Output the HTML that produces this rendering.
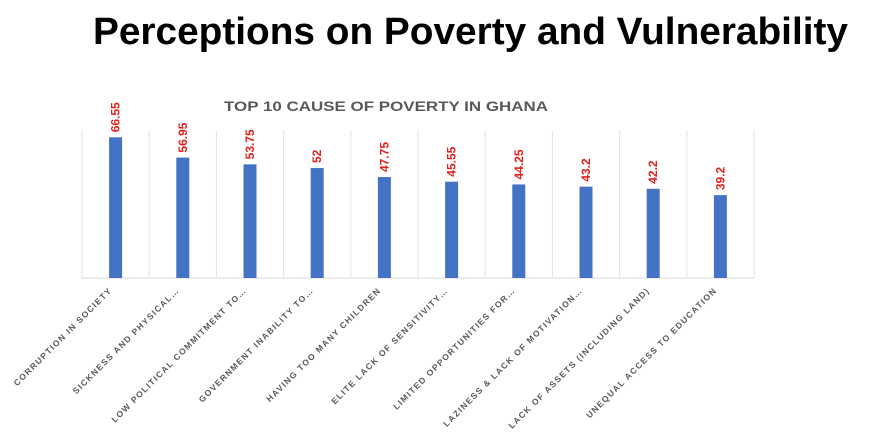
<!DOCTYPE html>
<html><head><meta charset="utf-8"><style>
html,body{margin:0;padding:0;background:#fff;}
body{width:884px;height:443px;overflow:hidden;font-family:"Liberation Sans",sans-serif;}
</style></head><body>
<svg id="chart" width="884" height="443" xmlns="http://www.w3.org/2000/svg">
<text x="93" y="44" textLength="755" lengthAdjust="spacingAndGlyphs" font-family="Liberation Sans, sans-serif" font-weight="bold" font-size="38" fill="#000">Perceptions on Poverty and Vulnerability</text>
<text x="224" y="111" textLength="324" lengthAdjust="spacingAndGlyphs" font-family="Liberation Sans, sans-serif" font-weight="bold" font-size="14" fill="#595959">TOP 10 CAUSE OF POVERTY IN GHANA</text>
<g id="grid"></g><g id="bars"></g><g id="vals"></g><g id="labels"></g>
</svg>
<script>
const categories = ["CORRUPTION IN SOCIETY","SICKNESS AND PHYSICAL…","LOW POLITICAL COMMITMENT TO…","GOVERNMENT INABILITY TO…","HAVING TOO MANY CHILDREN","ELITE LACK OF SENSITIVITY…","LIMITED OPPORTUNITIES FOR…","LAZINESS & LACK OF MOTIVATION…","LACK OF ASSETS (INCLUDING LAND)","UNEQUAL ACCESS TO EDUCATION"];
const values = [66.55,56.95,53.75,52,47.75,45.55,44.25,43.2,42.2,39.2];
const valueLabels = ["66.55","56.95","53.75","52","47.75","45.55","44.25","43.2","42.2","39.2"];
const NS="http://www.w3.org/2000/svg";
const x0=82, x1=754, y0=278, yTop=130, yMax=70;
const band=(x1-x0)/categories.length;
const xc=i=>x0+band*(i+0.5);
const y=v=>y0-(v/yMax)*(y0-yTop);
function mk(t,a,p){const e=document.createElementNS(NS,t);for(const k in a)e.setAttribute(k,a[k]);p.appendChild(e);return e;}
const grid=document.getElementById('grid');
for(let i=0;i<=categories.length;i++){
  const l=mk('line',{x1:x0+band*i,x2:x0+band*i,y1:yTop,y2:y0,stroke:'#e3e3e3','stroke-width':1},grid);
  
  
}
const ax=mk('line',{x1:x0,x2:x1,y1:y0,y2:y0,stroke:'#d9d9d9','stroke-width':1},grid);


values.forEach((v,i)=>{
  const b=mk('rect',{x:xc(i)-6.5,y:y(v),width:13,height:y0-y(v),fill:'#4472c4'},document.getElementById('bars'));
  
  
  const t=mk('text',{x:0,y:0,transform:`translate(${xc(i)+4},${y(v)-5}) rotate(-90)`,'font-size':12,'font-weight':'bold',fill:'#e0201b','font-family':'Liberation Sans, sans-serif'},document.getElementById('vals'));
  t.textContent=valueLabels[i];
  
  
  const c=mk('text',{x:0,y:0,transform:`translate(${xc(i)-3},${y0+13}) rotate(-45)`,'text-anchor':'end','font-size':8.5,'letter-spacing':1.3,'font-weight':'bold',fill:'#595959','font-family':'Liberation Sans, sans-serif'},document.getElementById('labels'));
  c.textContent=categories[i];
  
  
});
</script>
</body></html>
